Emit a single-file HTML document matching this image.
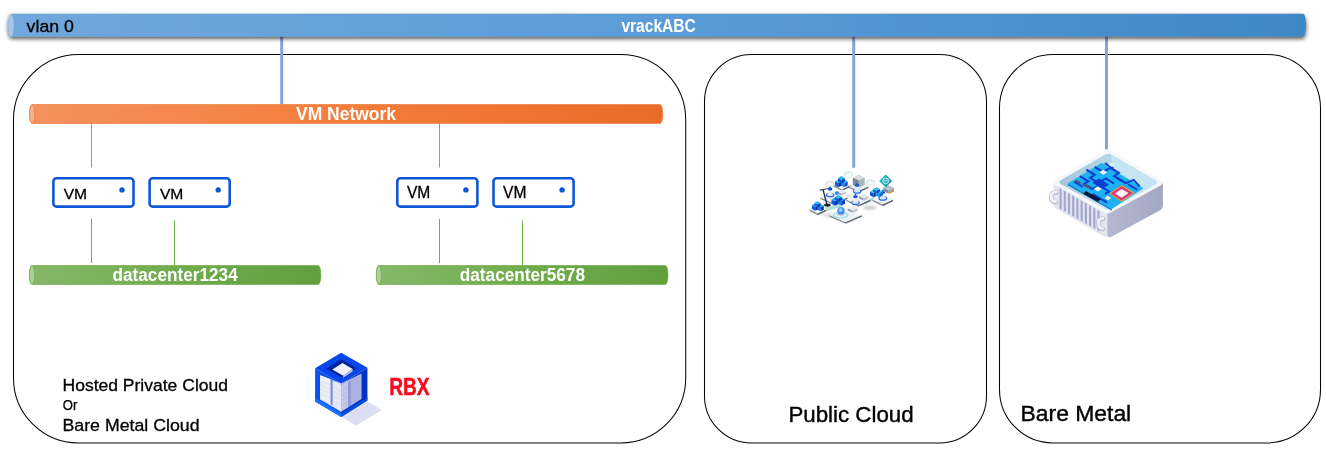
<!DOCTYPE html>
<html lang="en">
<head>
<meta charset="utf-8">
<title>vRack network diagram</title>
<style>
html,body{margin:0;padding:0;background:#fff;}
body{width:1326px;height:453px;overflow:hidden;font-family:"Liberation Sans",sans-serif;}
svg{display:block;position:absolute;left:0;top:0;will-change:transform;}
text{font-family:"Liberation Sans",sans-serif;}
</style>
</head>
<body>
<svg width="1326" height="453" viewBox="0 0 1326 453">
<defs>
  <linearGradient id="gBlue" x1="0" y1="0" x2="1" y2="0">
    <stop offset="0" stop-color="#70a7dc"/>
    <stop offset="0.5" stop-color="#5a9cd8"/>
    <stop offset="1" stop-color="#3e88c5"/>
  </linearGradient>
  <linearGradient id="gOrange" x1="0" y1="0" x2="1" y2="0">
    <stop offset="0" stop-color="#f4915e"/>
    <stop offset="0.5" stop-color="#f47d3b"/>
    <stop offset="1" stop-color="#e86c28"/>
  </linearGradient>
  <linearGradient id="gGreen" x1="0" y1="0" x2="1" y2="0">
    <stop offset="0" stop-color="#85b869"/>
    <stop offset="0.5" stop-color="#71ad4d"/>
    <stop offset="1" stop-color="#629e3c"/>
  </linearGradient>
  <filter id="sh" x="-5%" y="-50%" width="110%" height="220%">
    <feGaussianBlur in="SourceAlpha" stdDeviation="2"/>
    <feOffset dx="0" dy="2.2" result="o"/>
    <feComponentTransfer><feFuncA type="linear" slope="0.7"/></feComponentTransfer>
    <feMerge><feMergeNode/><feMergeNode in="SourceGraphic"/></feMerge>
  </filter>
</defs>

<!-- containers -->
<g fill="#fff" stroke="#050505" stroke-width="1.05">
  <rect x="13.5" y="54.5" width="672.2" height="388.4" rx="65" ry="65"/>
  <rect x="704.5" y="54.5" width="282" height="388.4" rx="47" ry="47"/>
  <rect x="999.5" y="54.5" width="321" height="388.4" rx="53.5" ry="53.5"/>
</g>

<!-- vrack uplinks -->
<g stroke="#86a4da" stroke-width="3" fill="none">
  <line x1="281.7" y1="36" x2="281.7" y2="104.5"/>
  <line x1="853.7" y1="36" x2="853.7" y2="167.8"/>
  <line x1="1106.5" y1="36" x2="1106.5" y2="149.4"/>
</g>

<!-- vrack bar -->
<g filter="url(#sh)">
  <path d="M11 13.8 L1303.2 13.8 A2.8 11.5 0 0 1 1303.2 36.8 L11 36.8 A2.8 11.5 0 0 1 11 13.8 Z" fill="url(#gBlue)"/>
</g>
<ellipse cx="11" cy="25.3" rx="2.8" ry="11.5" fill="#a3c6ea"/>
<text x="26.6" y="31.8" font-size="16.8" fill="#000" stroke="#000" stroke-width="0.3" textLength="47.3" lengthAdjust="spacingAndGlyphs">vlan 0</text>
<text x="621.4" y="31.8" font-size="17.7" font-weight="bold" fill="#fff" textLength="74.4" lengthAdjust="spacingAndGlyphs">vrackABC</text>

<!-- VM network bar -->
<path d="M32.15 104.50 L660.15 104.50 A2.7 9.48 0 0 1 660.15 123.45 L32.15 123.45 A2.7 9.48 0 0 1 32.15 104.50 Z" fill="url(#gOrange)" stroke="#ee7a37" stroke-width="0.7"/>
<ellipse cx="32.15" cy="113.97" rx="2.7" ry="9.48" fill="#f6b18c" stroke="#ee7a37" stroke-width="0.7"/>
<text x="296" y="119.9" font-size="17.8" font-weight="bold" fill="#fff" textLength="100" lengthAdjust="spacingAndGlyphs">VM Network</text>

<!-- thin connectors -->
<g stroke="#ed7d31" stroke-width="1" fill="none">
  <line x1="91.5" y1="123" x2="91.5" y2="167.5"/>
  <line x1="439.5" y1="123" x2="439.5" y2="167.5"/>
</g>
<g stroke="#70ad47" stroke-width="1" fill="none">
  <line x1="91.5" y1="218.7" x2="91.5" y2="263"/>
  <line x1="174.5" y1="220.5" x2="174.5" y2="265.5"/>
  <line x1="439.5" y1="218.7" x2="439.5" y2="263"/>
  <line x1="522.5" y1="220.5" x2="522.5" y2="265.5"/>
</g>

<!-- VMs -->
<g id="vms">
  <g>
    <rect x="53.4" y="178.3" width="80.1" height="28.3" rx="3.2" fill="#fff" stroke="#0f57d6" stroke-width="2.6"/>
    <circle cx="122.0" cy="189.9" r="2.7" fill="#0f57d6"/>
    <text x="63.7" y="198.5" font-size="15.2" fill="#000" stroke="#000" stroke-width="0.3" textLength="23.4" lengthAdjust="spacingAndGlyphs">VM</text>
  </g>
  <g>
    <rect x="149.6" y="178.3" width="80.1" height="28.3" rx="3.2" fill="#fff" stroke="#0f57d6" stroke-width="2.6"/>
    <circle cx="218.2" cy="189.9" r="2.7" fill="#0f57d6"/>
    <text x="159.9" y="198.5" font-size="15.2" fill="#000" stroke="#000" stroke-width="0.3" textLength="23.4" lengthAdjust="spacingAndGlyphs">VM</text>
  </g>
  <g>
    <rect x="397.3" y="178.3" width="80.1" height="28.3" rx="3.2" fill="#fff" stroke="#0f57d6" stroke-width="2.6"/>
    <circle cx="465.9" cy="189.9" r="2.7" fill="#0f57d6"/>
    <text x="406.9" y="198.0" font-size="15.7" fill="#000" stroke="#000" stroke-width="0.3" textLength="23.4" lengthAdjust="spacingAndGlyphs">VM</text>
  </g>
  <g>
    <rect x="493.5" y="178.3" width="80.1" height="28.3" rx="3.2" fill="#fff" stroke="#0f57d6" stroke-width="2.6"/>
    <circle cx="562.1" cy="189.9" r="2.7" fill="#0f57d6"/>
    <text x="503.1" y="198.0" font-size="15.7" fill="#000" stroke="#000" stroke-width="0.3" textLength="23.4" lengthAdjust="spacingAndGlyphs">VM</text>
  </g>
</g>

<!-- datacenter bars -->
<path d="M32.05 265.50 L318.25 265.50 A2.6 9.47 0 0 1 318.25 284.45 L32.05 284.45 A2.6 9.47 0 0 1 32.05 265.50 Z" fill="url(#gGreen)" stroke="#6eab46" stroke-width="0.7"/>
<ellipse cx="32.05" cy="274.98" rx="2.6" ry="9.47" fill="#add19a" stroke="#6eab46" stroke-width="0.7"/>
<text x="112.5" y="280.9" font-size="17.6" font-weight="bold" fill="#fff" textLength="125.2" lengthAdjust="spacingAndGlyphs">datacenter1234</text>

<path d="M378.85 265.50 L665.45 265.50 A2.5 9.47 0 0 1 665.45 284.45 L378.85 284.45 A2.5 9.47 0 0 1 378.85 265.50 Z" fill="url(#gGreen)" stroke="#6eab46" stroke-width="0.7"/>
<ellipse cx="378.85" cy="274.98" rx="2.5" ry="9.47" fill="#add19a" stroke="#6eab46" stroke-width="0.7"/>
<text x="459.8" y="280.9" font-size="17.6" font-weight="bold" fill="#fff" textLength="125.2" lengthAdjust="spacingAndGlyphs">datacenter5678</text>

<!-- labels -->
<text x="62.5" y="391" font-size="17.2" fill="#000" stroke="#000" stroke-width="0.3" textLength="165.5" lengthAdjust="spacingAndGlyphs">Hosted Private Cloud</text>
<text x="62.7" y="410" font-size="14.3" fill="#000" stroke="#000" stroke-width="0.25" textLength="14.6" lengthAdjust="spacingAndGlyphs">Or</text>
<text x="62.5" y="431.4" font-size="17.2" fill="#000" stroke="#000" stroke-width="0.3" textLength="137" lengthAdjust="spacingAndGlyphs">Bare Metal Cloud</text>
<text x="389.2" y="394.8" font-size="23" font-weight="bold" fill="#ff0a1e" stroke="#ff0a1e" stroke-width="0.5" textLength="40.4" lengthAdjust="spacingAndGlyphs">RBX</text>
<text x="788.4" y="422" font-size="22.8" fill="#000" stroke="#000" stroke-width="0.4" textLength="125.2" lengthAdjust="spacingAndGlyphs">Public Cloud</text>
<text x="1020.5" y="420.6" font-size="22.8" fill="#000" stroke="#000" stroke-width="0.4" textLength="110.7" lengthAdjust="spacingAndGlyphs">Bare Metal</text>

<!-- ICONS -->
<g id="icon-rbx" transform="translate(305,345) scale(0.1875)">
  <!-- shadow -->
  <polygon points="193,383 332,300 410,347 270,431" fill="#dcdff3"/>
  <!-- left face -->
  <polygon points="54,124 193,205 193,384 54,301" fill="#0a52ee"/>
  <!-- right face -->
  <polygon points="193,205 333,121 333,296 193,384" fill="#0033c4"/>
  <!-- top face -->
  <polygon points="193,41 333,121 193,205 54,124" fill="#0546e8"/>
  <!-- top hole -->
  <polygon points="193,76 274,124 193,172 114,126" fill="#00229a"/>
  <polygon points="200,96 254,128 204,164 146,130" fill="#eff0fa"/>
  <polygon points="204,164 254,128 254,140 204,174" fill="#c5c9e6"/>
  <!-- interior left window -->
  <polygon points="80,160 193,205 193,356 80,290" fill="#dfe2f4"/>
  <!-- interior right window -->
  <polygon points="193,205 301,152 301,288 193,356" fill="#aeb5e2"/>
  <!-- gaps -->
  <polygon points="134,180 148,188 148,322 134,314" fill="#6f86d8"/>
  <polygon points="228,200 244,190 244,322 228,332" fill="#8794d6"/>
  <!-- server rack 1 (left) -->
  <polygon points="82,162 136,182 136,314 82,284" fill="#eceef8"/>
  <!-- server rack 2 (centre) -->
  <polygon points="148,196 193,214 193,352 148,324" fill="#e6e8f6"/>
  <polygon points="193,214 230,196 230,332 193,352" fill="#c3c8ea"/>
  <!-- server rack 3 (right) -->
  <polygon points="244,186 300,158 300,286 244,318" fill="#aab1e0"/>
  <!-- rack lines -->
  <g stroke="#cfd3ea" stroke-width="3" fill="none">
    <path d="M82 190 L136 214 M82 212 L136 238 M82 234 L136 260 M82 256 L136 284"/>
    <path d="M148 224 L193 246 M148 248 L193 270 M148 272 L193 294 M148 296 L193 320"/>
  </g>
  <g stroke="#a9b1de" stroke-width="3" fill="none">
    <path d="M193 246 L230 226 M193 270 L230 250 M193 294 L230 274 M193 320 L230 300"/>
    <path d="M244 216 L300 186 M244 242 L300 212 M244 268 L300 238 M244 294 L300 262"/>
  </g>
  <!-- bottom frame highlights -->
  <polygon points="54,282 193,364 193,384 54,301" fill="#1672fa"/>
  <polygon points="193,364 333,280 333,296 193,384" fill="#0a4ee0"/>
</g>
<g id="icon-cloud" transform="translate(800,160) scale(0.165563)">
  <defs>
    <filter id="cblur" x="-10%" y="-10%" width="120%" height="120%"><feGaussianBlur stdDeviation="0.7"/></filter>
    <filter id="cblur2" x="-50%" y="-100%" width="200%" height="300%"><feGaussianBlur stdDeviation="6"/></filter>
    <radialGradient id="gSphere" cx="0.45" cy="0.4" r="0.6">
      <stop offset="0" stop-color="#d6efff"/>
      <stop offset="0.45" stop-color="#5aa8f8"/>
      <stop offset="1" stop-color="#1f6ce6"/>
    </radialGradient>
  </defs>
  <g>
  <ellipse cx="420" cy="288" rx="42" ry="13" fill="#8e949b" opacity="0.45" filter="url(#cblur2)"/>
  <ellipse cx="175" cy="332" rx="40" ry="12" fill="#8e949b" opacity="0.35" filter="url(#cblur2)"/>
  <ellipse cx="300" cy="215" rx="30" ry="10" fill="#8e949b" opacity="0.25" filter="url(#cblur2)"/>
  <ellipse cx="292" cy="88" rx="28" ry="22" fill="#d4ece8" opacity="0.9"/>
  <ellipse cx="292" cy="92" rx="18" ry="13" fill="#f4fbfa"/>
  <ellipse cx="178" cy="146" rx="30" ry="22" fill="#dbe8e8" opacity="0.9"/>
  <ellipse cx="180" cy="150" rx="18" ry="12" fill="#f4f8f8"/>
  <ellipse cx="425" cy="135" rx="30" ry="20" fill="#dbe8ea" opacity="0.9"/>
  <ellipse cx="428" cy="138" rx="18" ry="11" fill="#f4f8f8"/>
  <polygon points="203,150 255,176 255,187 203,161" fill="#8a949d"/><polygon points="255,176 307,150 307,161 255,187" fill="#5d6871"/><polygon points="255,124 307,150 255,176 203,150" fill="#eef2f5"/>
  <polygon points="297,158 355,186 355,197 297,169" fill="#8a949d"/><polygon points="355,186 413,158 413,169 355,197" fill="#5d6871"/><polygon points="355,130 413,158 355,186 297,158" fill="#eef2f5"/>
  <polygon points="319,105 355,123 355,167 319,149" fill="#7b8791"/><polygon points="355,123 391,105 391,149 355,167" fill="#a9b3bb"/><polygon points="355,87 391,105 355,123 319,105" fill="#d5dbe0"/>
  <path d="M321 122 L355 140 M321 134 L355 152 M321 146 L355 164" stroke="#3fa9b8" stroke-width="3" fill="none"/>
  <polygon points="212,128 232,139 232,165 212,154" fill="#0a4fd8"/><polygon points="232,139 252,128 252,154 232,165" fill="#0630a8"/><polygon points="232,117 252,128 232,139 212,128" fill="#2fc0f0"/>
  <polygon points="248,128 268,139 268,165 248,154" fill="#1a8ae8"/><polygon points="268,139 288,128 288,154 268,165" fill="#0a4fd8"/><polygon points="268,117 288,128 268,139 248,128" fill="#2fc0f0"/>
  <polygon points="230,108 250,119 250,143 230,132" fill="#0d5be0"/><polygon points="250,119 270,108 270,132 250,143" fill="#0636b4"/><polygon points="250,97 270,108 250,119 230,108" fill="#27b5ee"/>
  <polygon points="150,285 250,262 262,278 165,310" fill="#a9dcd6" opacity="0.9"/>
  <polygon points="385,250 445,222 455,238 395,270" fill="#a9dcd6" opacity="0.9"/>
  <polygon points="123,225 205,263 205,274 123,236" fill="#8a949d"/><polygon points="205,263 287,225 287,236 205,274" fill="#5d6871"/><polygon points="205,187 287,225 205,263 123,225" fill="#eef2f5"/>
  <polygon points="280,238 352,272 352,283 280,249" fill="#8a949d"/><polygon points="352,272 424,238 424,249 352,283" fill="#5d6871"/><polygon points="352,204 424,238 352,272 280,238" fill="#eef2f5"/>
  <polygon points="438,238 500,268 500,279 438,249" fill="#8a949d"/><polygon points="500,268 562,238 562,249 500,279" fill="#5d6871"/><polygon points="500,208 562,238 500,268 438,238" fill="#eef2f5"/>
  <polygon points="226,190 252,202 252,214 226,202" fill="#9aa3ab"/><polygon points="252,202 278,190 278,202 252,214" fill="#bcc4cb"/><polygon points="252,178 278,190 252,202 226,190" fill="#e8ecef"/>
  <polygon points="357,218 385,231 385,245 357,232" fill="#9aa3ab"/><polygon points="385,231 413,218 413,232 385,245" fill="#bcc4cb"/><polygon points="385,205 413,218 385,231 357,218" fill="#e4e8ec"/>
  <ellipse cx="182" cy="212" rx="26" ry="14" fill="#1f6cf0"/><ellipse cx="182" cy="209" rx="19" ry="10" fill="#dfe8f6"/><rect x="169" y="178" width="26" height="32" rx="8" fill="#e3e9f5"/><ellipse cx="182" cy="176" rx="14" ry="8" fill="#1247c8"/><rect x="176" y="160" width="12" height="16" rx="5" fill="#1a5fe0"/>
  <ellipse cx="345" cy="190" rx="26" ry="14" fill="#1f6cf0"/><ellipse cx="345" cy="187" rx="19" ry="10" fill="#dfe8f6"/><rect x="332" y="156" width="26" height="32" rx="8" fill="#e3e9f5"/><ellipse cx="345" cy="154" rx="14" ry="8" fill="#1247c8"/><rect x="339" y="138" width="12" height="16" rx="5" fill="#1a5fe0"/>
  <ellipse cx="335" cy="258" rx="26" ry="14" fill="#1f6cf0"/><ellipse cx="335" cy="255" rx="19" ry="10" fill="#dfe8f6"/><rect x="322" y="224" width="26" height="32" rx="8" fill="#e3e9f5"/><ellipse cx="335" cy="222" rx="14" ry="8" fill="#1247c8"/><rect x="329" y="206" width="12" height="16" rx="5" fill="#1a5fe0"/>
  <ellipse cx="500" cy="232" rx="26" ry="14" fill="#1f6cf0"/><ellipse cx="500" cy="229" rx="19" ry="10" fill="#dfe8f6"/><rect x="487" y="198" width="26" height="32" rx="8" fill="#e3e9f5"/><ellipse cx="500" cy="196" rx="14" ry="8" fill="#1247c8"/><rect x="494" y="180" width="12" height="16" rx="5" fill="#1a5fe0"/>
  <circle cx="222" cy="200" r="12" fill="#2b8df0"/>
  <polygon points="190,238 212,249 212,275 190,264" fill="#0d5be0"/><polygon points="212,249 234,238 234,264 212,275" fill="#072a9a"/><polygon points="212,227 234,238 212,249 190,238" fill="#22aaf0"/>
  <polygon points="228,238 250,249 250,275 228,264" fill="#1478e6"/><polygon points="250,249 272,238 272,264 250,275" fill="#0a3cc0"/><polygon points="250,227 272,238 250,249 228,238" fill="#22aaf0"/>
  <polygon points="212,222 232,232 232,252 212,242" fill="#0d5be0"/><polygon points="232,232 252,222 252,242 232,252" fill="#0636b4"/><polygon points="232,212 252,222 232,232 212,222" fill="#2bb8f2"/>
  <path d="M122 182 L170 172" stroke="#4b545c" stroke-width="7" stroke-linecap="round" fill="none"/>
  <path d="M140 182 L162 268" stroke="#22272d" stroke-width="8" stroke-linecap="round" fill="none"/>
  <ellipse cx="165" cy="272" rx="20" ry="10" fill="#1f242a"/>
  <polygon points="423,190 445,201 445,225 423,214" fill="#0a4fd8"/><polygon points="445,201 467,190 467,214 445,225" fill="#0630a8"/><polygon points="445,179 467,190 445,201 423,190" fill="#2fc0f0"/>
  <polygon points="456,190 478,201 478,225 456,214" fill="#14a0e8"/><polygon points="478,201 500,190 500,214 478,225" fill="#0a6fd0"/><polygon points="478,179 500,190 478,201 456,190" fill="#38c8f4"/>
  <polygon points="442,174 462,184 462,204 442,194" fill="#0d6fe0"/><polygon points="462,184 482,174 482,194 462,204" fill="#0a4fc8"/><polygon points="462,164 482,174 462,184 442,174" fill="#30bff0"/>
  <polygon points="503,168 535,183 535,203 503,188" fill="#7f8a93"/><polygon points="535,183 567,168 567,188 535,203" fill="#9aa3ab"/><polygon points="535,153 567,168 535,183 503,168" fill="#b9c1c8"/>
  <polygon points="535,198 567,183 567,190 535,205" fill="#e0853a"/>
  <polygon points="517,88 556,127 517,166 478,127" fill="#2ab3bd"/>
  <polygon points="517,88 556,127 517,166 517,127" fill="#1f9aa6" opacity="0.6"/>
  <circle cx="518" cy="126" r="17" fill="none" stroke="#e8f6f7" stroke-width="5"/>
  <path d="M508 126 L528 126 M518 118 L528 126" stroke="#e8f6f7" stroke-width="4" fill="none"/>
  <polygon points="58,298 108,322 108,333 58,309" fill="#8a949d"/><polygon points="108,322 158,298 158,309 108,333" fill="#5d6871"/><polygon points="108,274 158,298 108,322 58,298" fill="#eef2f5"/>
  <polygon points="177,332 275,374 275,385 177,343" fill="#8a949d"/><polygon points="275,374 373,332 373,343 275,385" fill="#5d6871"/><polygon points="275,290 373,332 275,374 177,332" fill="#eef2f5"/>
  <polygon points="72,272 92,282 92,306 72,296" fill="#0d5be0"/><polygon points="92,282 112,272 112,296 92,306" fill="#072a9a"/><polygon points="92,262 112,272 92,282 72,272" fill="#22aaf0"/>
  <polygon points="104,276 124,286 124,310 104,300" fill="#1478e6"/><polygon points="124,286 144,276 144,300 124,310" fill="#0a3cc0"/><polygon points="124,266 144,276 124,286 104,276" fill="#22aaf0"/>
  <polygon points="88,258 106,267 106,287 88,278" fill="#1068e4"/><polygon points="106,267 124,258 124,278 106,287" fill="#0636b4"/><polygon points="106,249 124,258 106,267 88,258" fill="#2bb8f2"/>
  <polygon points="288,292 318,305 318,319 288,306" fill="#9aa3ab"/><polygon points="318,305 348,292 348,306 318,319" fill="#bcc4cb"/><polygon points="318,279 348,292 318,305 288,292" fill="#e6eaee"/>
  <ellipse cx="245" cy="332" rx="48" ry="22" fill="#9fdcf0"/>
  <ellipse cx="245" cy="330" rx="36" ry="16" fill="#e9f5fb"/>
  <ellipse cx="245" cy="326" rx="26" ry="11" fill="#bfc9d6"/>
  <circle cx="247" cy="306" r="22" fill="url(#gSphere)"/>
  </g>
</g>
<g id="icon-metal" transform="translate(1040,140) scale(0.231788)">
  <defs>
    <linearGradient id="gWall" x1="0" y1="0" x2="1" y2="0">
      <stop offset="0" stop-color="#9cc4d8"/>
      <stop offset="0.45" stop-color="#c9e6f2"/>
      <stop offset="1" stop-color="#b4dff0"/>
    </linearGradient>
    <linearGradient id="gRight" x1="0" y1="0" x2="1" y2="0">
      <stop offset="0" stop-color="#b4b8d0"/>
      <stop offset="1" stop-color="#a3a7c2"/>
    </linearGradient>
  </defs>
  <!-- right face -->
  <path d="M290 316 L530 186 L530 285 Q530 296 520 302 L306 418 Q290 424 290 410 Z" fill="url(#gRight)"/>
  <!-- left face -->
  <path d="M58 182 L290 316 L290 410 Q290 424 276 416 L72 298 Q58 290 58 276 Z" fill="#e3e5f1"/>
  <!-- fins -->
  <g fill="#a3a8cc">
    <polygon points="84.0,207.0 93.5,212.5 93.5,300.5 84.0,295.0"/>
    <polygon points="102.2,217.5 111.7,223.0 111.7,311.0 102.2,305.5"/>
    <polygon points="120.4,228.0 129.9,233.5 129.9,321.5 120.4,316.0"/>
    <polygon points="138.6,238.5 148.1,244.0 148.1,332.0 138.6,326.5"/>
    <polygon points="156.8,249.0 166.3,254.5 166.3,342.5 156.8,337.0"/>
    <polygon points="175.0,259.5 184.5,265.0 184.5,353.0 175.0,347.5"/>
    <polygon points="193.2,270.0 202.7,275.5 202.7,363.5 193.2,358.0"/>
    <polygon points="211.4,280.5 220.9,286.0 220.9,374.0 211.4,368.5"/>
    <polygon points="229.6,291.0 239.1,296.5 239.1,384.5 229.6,379.0"/>
    <polygon points="247.8,301.5 257.3,307.0 257.3,395.0 247.8,389.5"/>
  </g>
  <!-- rim (top) -->
  <path d="M276 48 Q294 38 312 48 L520 170 Q538 184 520 196 L308 312 Q290 322 272 312 L68 194 Q50 182 68 170 Z" fill="#f6f7fb"/>
  <!-- cavity -->
  <path d="M280 64 Q294 56 308 64 L498 174 Q510 184 498 192 L304 298 Q292 304 280 298 L90 190 Q78 182 90 174 Z" fill="url(#gWall)"/>
  <!-- cavity back-right wall lighter -->
  <path d="M294 58 Q302 58 308 64 L498 174 Q510 184 498 192 L440 224 L294 140 Z" fill="#c4e6f3"/>
  <!-- inner left wall shading -->
  <path d="M90 174 L280 64 Q294 56 308 64 L308 100 L150 200 L90 190 Q78 182 90 174 Z" fill="#a3c9da" opacity="0.55"/>
  <!-- board -->
  <polygon points="266,98 446,208 310,298 120,188" fill="#1eb1f2"/>
  <polygon points="120,188 310,298 310,305 120,195" fill="#0d7fd0"/>
  <!-- traces -->
  <g fill="none" stroke="#0b3fd0" stroke-width="9" stroke-linejoin="miter">
    <path d="M200 128 L236 150 L216 164 L252 186 L284 166 L320 188"/>
    <path d="M236 116 L272 138 L304 120 L340 142 L320 156 L352 176"/>
    <path d="M172 156 L208 178 L190 190 L226 212 L262 192"/>
    <path d="M262 200 L298 222 L280 234"/>
    <path d="M334 164 L370 186 L404 172 L430 200"/>
    <path d="M148 180 L184 202"/>
    <path d="M380 192 L420 214"/>
    <path d="M280 100 L316 122"/>
    <path d="M226 232 L262 254 L290 270"/>
  </g>
  <polygon points="254,166 298,192 270,210 226,184" fill="#0b3fd0"/>
  <!-- small white components -->
  <polygon points="272,128 290,139 274,150 256,139" fill="#f2f6fb"/>
  <polygon points="248,200 266,211 250,222 232,211" fill="#f2f6fb"/>
  <polygon points="292,240 308,250 294,260 278,250" fill="#e9eef8"/>
  <polygon points="306,98 322,108 310,116 294,106" fill="#e9f3fb"/>
  <polygon points="158,172 180,184 170,190 148,178" fill="#4a5a7a"/>
  <polygon points="196,188 222,202 210,210 184,196" fill="#4a5a7a"/>
  <!-- black component -->
  <polygon points="198,220 262,256 250,268 186,232" fill="#0a1a3c"/>
  <!-- chip -->
  <polygon points="352,194 408,229 352,266 298,231" fill="#f09a3a"/>
  <polygon points="352,199 400,229 352,261 306,231" fill="#d8397a"/>
  <polygon points="352,211 382,229 352,249 324,231" fill="#f8f4f8"/>
  <!-- clips -->
  <g fill="none" stroke="#b9bcd6" stroke-width="20" stroke-linecap="round">
    <path d="M70 226 Q46 226 48 248 Q50 268 68 268"/>
    <path d="M272 340 Q250 340 252 362 Q254 384 270 384"/>
  </g>
  <g fill="none" stroke="#f3f4f9" stroke-width="12" stroke-linecap="round">
    <path d="M70 224 Q46 224 48 246 Q50 266 68 266"/>
    <path d="M272 338 Q250 338 252 360 Q254 382 270 382"/>
  </g>
</g>
</svg>
</body>
</html>
